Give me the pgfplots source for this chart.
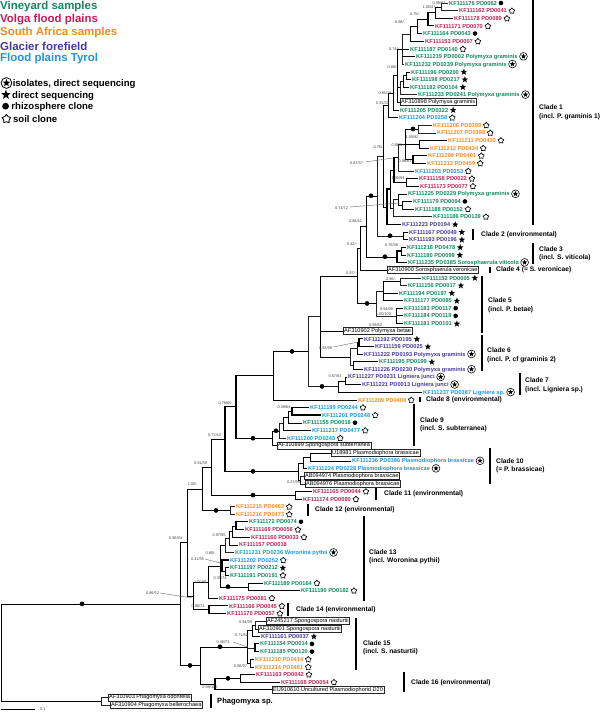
\documentclass[border=0pt]{standalone}
\usepackage{fontspec}
\setmainfont{Liberation Sans}
\usepackage{pgfplots}
\pgfplotsset{compat=1.18}
\definecolor{cG}{RGB}{16,135,95}
\definecolor{cR}{RGB}{180,36,88}
\definecolor{cO}{RGB}{240,140,30}
\definecolor{cP}{RGB}{72,56,150}
\definecolor{cB}{RGB}{30,150,215}
\definecolor{tree}{RGB}{35,35,35}
\newcommand{\starpath}[2]{(90:#1)--(126:#2)--(162:#1)--(198:#2)--(234:#1)--(270:#2)--(306:#1)--(342:#2)--(18:#1)--(54:#2)--cycle}
\newcommand{\sst}{\hspace{1.8pt}\tikz[baseline=-2pt]\fill[black] \starpath{3.4pt}{1.45pt};}
\newcommand{\sdt}{\hspace{1.8pt}\tikz[baseline=-2pt]\fill[black] (0,0) circle (2.3pt);}
\newcommand{\ssl}{\hspace{1.8pt}\tikz[baseline=-2pt]\draw[black,line width=0.65pt,line join=round] \starpath{3.1pt}{2.0pt};}
\newcommand{\sis}{\hspace{1.8pt}\tikz[baseline=-2pt]{\draw[black,line width=0.55pt] (0,0) circle (3.9pt); \fill[black] \starpath{2.8pt}{1.2pt};}}
\newcommand{\lsst}{\tikz[baseline=-3.3pt]\fill[black] \starpath{5pt}{2.1pt};}
\newcommand{\lsdt}{\tikz[baseline=-3.3pt]\fill[black] (0,0) circle (3.4pt);}
\newcommand{\lssl}{\tikz[baseline=-3.3pt]\draw[black,line width=0.9pt,line join=round] \starpath{4.5pt}{2.9pt};}
\newcommand{\lsis}{\tikz[baseline=-3.3pt]{\draw[black,line width=0.8pt] (0,0) circle (5.4pt); \fill[black] \starpath{4pt}{1.7pt};}}
\tikzset{
 tip/.style={anchor=west,inner sep=1pt,font=\fontsize{5.7}{6}\selectfont\bfseries},
 bx/.style={anchor=west,draw=black!85,line width=0.45pt,inner sep=0.9pt,font=\fontsize{5.6}{6}\selectfont,text=black},
 bs/.style={anchor=center,inner sep=0pt,font=\fontsize{3.9}{4}\selectfont,text=black!75},
 cl/.style={anchor=west,inner sep=0pt,font=\fontsize{6.7}{7}\selectfont\bfseries,text=black},
 lg/.style={anchor=west,inner sep=0pt,font=\fontsize{9.6}{10}\selectfont\bfseries},
 lgc/.style={anchor=west,inner sep=0pt,font=\fontsize{11.5}{12}\selectfont\bfseries},
}
\begin{document}
\begin{tikzpicture}
\useasboundingbox (0,0) rectangle (600bp,714bp);
\begin{axis}[x=1bp,y=1bp,xmin=0,xmax=600,ymin=0,ymax=714,y dir=reverse,
 axis lines=none,clip=false,anchor=south west,at={(0,0)},
 cycle list={{tree,solid,line width=1.1pt,mark=none,line cap=rect}}]
% ---------- tree branches ----------
\addplot coordinates {(448,3.0) (441,3.0) (441,10.6) (458,10.6)};
\addplot coordinates {(441,6.8) (435,6.8) (435,18.3) (453,18.3)};
\addplot coordinates {(435,12.5) (428,12.5) (428,25.9) (434,25.9)};
\addplot coordinates {(428,19.2) (417,19.2) (417,33.5) (422,33.5)};
\addplot coordinates {(417,26.4) (410,26.4) (410,41.2) (424,41.2)};
\addplot coordinates {(410,33.8) (402,33.8) (402,64.0) (404,64.0)};
\addplot coordinates {(402,48.8) (409,48.8)};
\addplot coordinates {(402,56.4) (415,56.4)};
\addplot coordinates {(410,71.7) (406,71.7) (406,79.3) (411,79.3)};
\addplot coordinates {(406,75.5) (403,75.5) (403,86.9) (409,86.9)};
\addplot coordinates {(403,81.2) (400,81.2) (400,94.6) (417,94.6)};
\addplot coordinates {(402,48.9) (397,48.9) (397,102.2) (400,102.2)};
\addplot coordinates {(397,87.9) (400,87.9)};
\addplot coordinates {(397,75.5) (393,75.5) (393,109.8) (399,109.8)};
\addplot coordinates {(393,92.7) (388,92.7) (388,117.5) (398,117.5)};
\addplot coordinates {(432,125.1) (418,125.1) (418,132.7) (436,132.7)};
\addplot coordinates {(447,140.3) (419,140.3) (419,148.0) (429,148.0)};
\addplot coordinates {(427,155.6) (413,155.6) (413,163.2) (426,163.2)};
\addplot coordinates {(418,128.9) (405,128.9) (405,159.4) (413,159.4)};
\addplot coordinates {(405,144.2) (419,144.2)};
\addplot coordinates {(405,144.2) (398,144.2) (398,170.9) (414,170.9)};
\addplot coordinates {(418,178.5) (406,178.5) (406,186.1) (419,186.1)};
\addplot coordinates {(398,157.5) (394,157.5) (394,182.3) (406,182.3)};
\addplot coordinates {(412,201.4) (402,201.4) (402,209.0) (414,209.0)};
\addplot coordinates {(407,193.8) (398,193.8) (398,205.2) (402,205.2)};
\addplot coordinates {(398,199.5) (393,199.5) (393,216.6) (432,216.6)};
\addplot coordinates {(394,169.9) (390,169.9) (390,208.1) (393,208.1)};
\addplot coordinates {(390,189.0) (387,189.0) (387,224.3) (401,224.3)};
\addplot coordinates {(388,105.1) (383,105.1) (383,206.7) (387,206.7)};
\addplot coordinates {(408,231.9) (403,231.9) (403,239.5) (408,239.5)};
\addplot coordinates {(383,155.9) (377,155.9) (377,235.7) (403,235.7)};
\addplot coordinates {(406,247.2) (401,247.2) (401,254.8) (406,254.8)};
\addplot coordinates {(401,251.0) (397,251.0) (397,262.4) (407,262.4)};
\addplot coordinates {(377,195.8) (366,195.8) (366,256.7) (397,256.7)};
\addplot coordinates {(366,226.3) (360,226.3) (360,270.1) (387,270.1)};
\addplot coordinates {(421,277.7) (400,277.7) (400,285.3) (407,285.3)};
\addplot coordinates {(403,308.2) (396,308.2) (396,323.5) (403,323.5)};
\addplot coordinates {(396,315.8) (403,315.8)};
\addplot coordinates {(400,281.5) (383,281.5) (383,300.6) (403,300.6)};
\addplot coordinates {(383,292.9) (398,292.9)};
\addplot coordinates {(383,291.1) (376,291.1) (376,315.8) (396,315.8)};
\addplot coordinates {(360,248.2) (357,248.2) (357,303.4) (376,303.4)};
\addplot coordinates {(363,338.7) (359,338.7) (359,346.4) (374,346.4)};
\addplot coordinates {(359,342.5) (357,342.5) (357,354.0) (363,354.0)};
\addplot coordinates {(378,361.6) (353,361.6) (353,369.2) (363,369.2)};
\addplot coordinates {(357,348.3) (350,348.3) (350,365.4) (353,365.4)};
\addplot coordinates {(357,275.8) (320,275.8) (320,356.9) (350,356.9)};
\addplot coordinates {(320,331.1) (343,331.1)};
\addplot coordinates {(347,376.9) (345,376.9) (345,384.5) (361,384.5)};
\addplot coordinates {(345,380.7) (338,380.7) (338,392.1) (422,392.1)};
\addplot coordinates {(320,316.4) (308,316.4) (308,386.4) (338,386.4)};
\addplot coordinates {(308,351.4) (273,351.4) (273,399.8) (357,399.8)};
\addplot coordinates {(309,407.4) (292,407.4) (292,415.0) (321,415.0)};
\addplot coordinates {(292,411.2) (288,411.2) (288,422.7) (302,422.7)};
\addplot coordinates {(288,416.9) (283,416.9) (283,430.3) (311,430.3)};
\addplot coordinates {(283,423.6) (279,423.6) (279,437.9) (286,437.9)};
\addplot coordinates {(279,430.8) (272,430.8) (272,445.5) (277,445.5)};
\addplot coordinates {(273,375.6) (236,375.6) (236,438.2) (272,438.2)};
\addplot coordinates {(331,453.2) (310,453.2) (310,460.8) (351,460.8)};
\addplot coordinates {(310,457.0) (303,457.0) (303,468.4) (307,468.4)};
\addplot coordinates {(304,476.1) (300,476.1) (300,483.7) (305,483.7)};
\addplot coordinates {(303,462.7) (298,462.7) (298,479.9) (300,479.9)};
\addplot coordinates {(236,406.9) (225,406.9) (225,471.3) (298,471.3)};
\addplot coordinates {(312,491.3) (295,491.3) (295,499.0) (302,499.0)};
\addplot coordinates {(225,439.1) (211,439.1) (211,495.1) (295,495.1)};
\addplot coordinates {(235,506.6) (230,506.6) (230,514.2) (235,514.2)};
\addplot coordinates {(211,467.1) (202,467.1) (202,510.4) (230,510.4)};
\addplot coordinates {(248,521.8) (236,521.8) (236,529.5) (244,529.5)};
\addplot coordinates {(236,525.7) (232,525.7) (232,537.1) (250,537.1)};
\addplot coordinates {(232,531.4) (229,531.4) (229,544.7) (238,544.7)};
\addplot coordinates {(229,538.1) (225,538.1) (225,552.4) (234,552.4)};
\addplot coordinates {(229,567.6) (225,567.6) (225,575.3) (229,575.3)};
\addplot coordinates {(229,560.0) (222,560.0) (222,571.4) (225,571.4)};
\addplot coordinates {(263,582.9) (248,582.9) (248,590.5) (300,590.5)};
\addplot coordinates {(225,545.2) (220,545.2) (220,586.7) (248,586.7)};
\addplot coordinates {(220,565.7) (222,565.7)};
\addplot coordinates {(220,566.0) (208,566.0) (208,598.1) (218,598.1)};
\addplot coordinates {(228,605.8) (209,605.8) (209,613.4) (226,613.4)};
\addplot coordinates {(208,582.0) (193,582.0) (193,609.6) (209,609.6)};
\addplot coordinates {(202,488.8) (187,488.8) (187,595.8) (193,595.8)};
\addplot coordinates {(266,621.0) (255,621.0) (255,628.7) (258,628.7)};
\addplot coordinates {(255,624.8) (252,624.8) (252,636.3) (260,636.3)};
\addplot coordinates {(259,643.9) (255,643.9) (255,651.6) (259,651.6)};
\addplot coordinates {(254,659.2) (250,659.2) (250,666.8) (254,666.8)};
\addplot coordinates {(252,630.6) (247,630.6) (247,663.0) (250,663.0)};
\addplot coordinates {(247,647.7) (255,647.7)};
\addplot coordinates {(255,674.4) (240,674.4) (240,682.1) (280,682.1)};
\addplot coordinates {(240,678.3) (215,678.3) (215,689.7) (272,689.7)};
\addplot coordinates {(247,646.8) (200,646.8) (200,684.0) (215,684.0)};
\addplot coordinates {(187,542.3) (180,542.3) (180,665.4) (200,665.4)};
\addplot coordinates {(108,697.3) (101,697.3) (101,705.0) (110,705.0)};
\addplot coordinates {(180,603.9) (1,603.9) (1,701.1) (101,701.1)};
% node dots
\addplot[only marks,mark=*,mark size=2.1pt,black] coordinates {(413,128.9) (371,195.8) (390,235.7) (385,256.7) (367,303.4) (292,351.4) (322,386.4) (253,438.2) (276,430.8) (253,471.3) (253,495.1) (216,510.4) (228,586.7) (190,665.4) (220,646.8) (228,678.3) (82,603.9)};
% leader lines
\addplot[black!60,line width=0.4pt] coordinates {(365,162) (393,158)};
\addplot[black!60,line width=0.4pt] coordinates {(350,207) (400,203)};
\addplot[black!60,line width=0.4pt] coordinates {(333,347) (358,342)};
\addplot[black!60,line width=0.4pt] coordinates {(160,593) (192,598)};
\addplot[black!60,line width=0.4pt] coordinates {(205,559) (220,563)};
\addplot[black!60,line width=0.4pt] coordinates {(233,642) (248,647)};
% clade bars
\addplot[black,line width=2.3pt,line cap=butt] coordinates {(533,0) (533,225)};
\addplot[black,line width=2.3pt,line cap=butt] coordinates {(473,229) (473,240)};
\addplot[black,line width=2.3pt,line cap=butt] coordinates {(533,243) (533,264)};
\addplot[black,line width=2.3pt,line cap=butt] coordinates {(490,267) (490,273)};
\addplot[black,line width=2.3pt,line cap=butt] coordinates {(482,276) (482,333)};
\addplot[black,line width=2.3pt,line cap=butt] coordinates {(482,335) (482,371)};
\addplot[black,line width=2.3pt,line cap=butt] coordinates {(520,373) (520,395)};
\addplot[black,line width=2.3pt,line cap=butt] coordinates {(420,397) (420,402)};
\addplot[black,line width=2.3pt,line cap=butt] coordinates {(414,404) (414,446)};
\addplot[black,line width=2.3pt,line cap=butt] coordinates {(490,448) (490,484)};
\addplot[black,line width=2.3pt,line cap=butt] coordinates {(376,488) (376,500)};
\addplot[black,line width=2.3pt,line cap=butt] coordinates {(308,504) (308,516)};
\addplot[black,line width=2.3pt,line cap=butt] coordinates {(364,516) (364,601)};
\addplot[black,line width=2.3pt,line cap=butt] coordinates {(288,603) (288,616)};
\addplot[black,line width=2.3pt,line cap=butt] coordinates {(356,618) (356,670)};
\addplot[black,line width=2.3pt,line cap=butt] coordinates {(404,672) (404,692)};
\addplot[black,line width=2.3pt,line cap=butt] coordinates {(211,694) (211,708)};
% scale bar
\addplot[black,line width=0.8pt,line cap=butt] coordinates {(1,709) (35,709)};
\node[bs,anchor=west] at (axis cs:40,709) {0.1};
% ---------- tip labels ----------
\node[tip,text=cG] at (axis cs:448,3.0) {KF111176 PD0062\sdt};
\node[tip,text=cR] at (axis cs:458,10.6) {KF111162 PD0041\ssl};
\node[tip,text=cR] at (axis cs:453,18.3) {KF111178 PD0089\ssl};
\node[tip,text=cR] at (axis cs:434,25.9) {KF111171 PD0070\ssl};
\node[tip,text=cG] at (axis cs:422,33.5) {KF111164 PD0043\sdt};
\node[tip,text=cR] at (axis cs:424,41.2) {KF111153 PD0007\ssl};
\node[tip,text=cG] at (axis cs:409,48.8) {KF111187 PD0140\ssl};
\node[tip,text=cG] at (axis cs:415,56.4) {KF111219 PD0002 Polymyxa graminis\sis};
\node[tip,text=cG] at (axis cs:404,64.0) {KF111232 PD0239 Polymyxa graminis\sis};
\node[tip,text=cG] at (axis cs:410,71.7) {KF111196 PD0200\sst};
\node[tip,text=cG] at (axis cs:411,79.3) {KF111198 PD0217\sst};
\node[tip,text=cG] at (axis cs:409,86.9) {KF111182 PD0104\sst};
\node[tip,text=cG] at (axis cs:417,94.6) {KF111233 PD0241 Polymyxa graminis\sis};
\node[bx] at (axis cs:400,102.2) {AF310898 Polymyxa graminis};
\node[tip,text=cG] at (axis cs:399,109.8) {KF111205 PD0322\sst};
\node[tip,text=cB] at (axis cs:398,117.5) {KF111204 PD0258\ssl};
\node[tip,text=cO] at (axis cs:432,125.1) {KF111206 PD0399\ssl};
\node[tip,text=cO] at (axis cs:436,132.7) {KF111207 PD0398\ssl};
\node[tip,text=cO] at (axis cs:447,140.3) {KF111211 PD0430\ssl};
\node[tip,text=cO] at (axis cs:429,148.0) {KF111212 PD0434\ssl};
\node[tip,text=cO] at (axis cs:427,155.6) {KF111208 PD0401\ssl};
\node[tip,text=cO] at (axis cs:426,163.2) {KF111213 PD0459\ssl};
\node[tip,text=cB] at (axis cs:414,170.9) {KF111203 PD0253\ssl};
\node[tip,text=cR] at (axis cs:418,178.5) {KF111158 PD0022\ssl};
\node[tip,text=cR] at (axis cs:419,186.1) {KF111173 PD0077\ssl};
\node[tip,text=cG] at (axis cs:407,193.8) {KF111225 PD0229 Polymyxa graminis\sis};
\node[tip,text=cG] at (axis cs:412,201.4) {KF111179 PD0094\sdt};
\node[tip,text=cG] at (axis cs:414,209.0) {KF111188 PD0152\ssl};
\node[tip,text=cG] at (axis cs:432,216.6) {KF111186 PD0139\ssl};
\node[tip,text=cP] at (axis cs:401,224.3) {KF111223 PD0194\sst};
\node[tip,text=cP] at (axis cs:408,231.9) {KF111167 PD0049\sst};
\node[tip,text=cP] at (axis cs:408,239.5) {KF111193 PD0196\sst};
\node[tip,text=cG] at (axis cs:406,247.2) {KF111218 PD0478\sst};
\node[tip,text=cG] at (axis cs:406,254.8) {KF111180 PD0099\sst};
\node[tip,text=cG] at (axis cs:407,262.4) {KF111235 PD0385 Sorosphaerula viticola\sis};
\node[bx] at (axis cs:387,270.1) {AF310900 Sorosphaerula veronicae};
\node[tip,text=cG] at (axis cs:421,277.7) {KF111152 PD0005\sst};
\node[tip,text=cG] at (axis cs:407,285.3) {KF111156 PD0017\sst};
\node[tip,text=cG] at (axis cs:398,292.9) {KF111194 PD0197\sst};
\node[tip,text=cG] at (axis cs:403,300.6) {KF111177 PD0085\sst};
\node[tip,text=cG] at (axis cs:403,308.2) {KF111183 PD0117\sdt};
\node[tip,text=cG] at (axis cs:403,315.8) {KF111184 PD0118\sdt};
\node[tip,text=cG] at (axis cs:403,323.5) {KF111181 PD0101\sst};
\node[bx] at (axis cs:343,331.1) {AF310902 Polymyxa betae};
\node[tip,text=cP] at (axis cs:363,338.7) {KF111192 PD0195\sst};
\node[tip,text=cP] at (axis cs:374,346.4) {KF111159 PD0025\sst};
\node[tip,text=cP] at (axis cs:363,354.0) {KF111222 PD0193 Polymyxa graminis\sis};
\node[tip,text=cG] at (axis cs:378,361.6) {KF111195 PD0199\sst};
\node[tip,text=cP] at (axis cs:363,369.2) {KF111226 PD0230 Polymyxa graminis\sis};
\node[tip,text=cP] at (axis cs:347,376.9) {KF111227 PD0231 Ligniera junci\sis};
\node[tip,text=cP] at (axis cs:361,384.5) {KF111221 PD0013 Ligniera junci\sis};
\node[tip,text=cB] at (axis cs:422,392.1) {KF111237 PD0387 Ligniera sp.\sis};
\node[tip,text=cO] at (axis cs:357,399.8) {KF111209 PD0408\ssl};
\node[tip,text=cB] at (axis cs:309,407.4) {KF111199 PD0244\ssl};
\node[tip,text=cB] at (axis cs:321,415.0) {KF111201 PD0248\ssl};
\node[tip,text=cG] at (axis cs:302,422.7) {KF111155 PD0016\sdt};
\node[tip,text=cB] at (axis cs:311,430.3) {KF111217 PD0477\ssl};
\node[tip,text=cB] at (axis cs:286,437.9) {KF111200 PD0245\ssl};
\node[bx] at (axis cs:277,445.5) {AF310899 Spongospora subterranea};
\node[bx] at (axis cs:331,453.2) {U18981 Plasmodiophora brassicae};
\node[tip,text=cB] at (axis cs:351,460.8) {KF111236 PD0386 Plasmodiophora brassicae\sis};
\node[tip,text=cB] at (axis cs:307,468.4) {KF111224 PD0228 Plasmodiophora brassicae\sis};
\node[bx] at (axis cs:304,476.1) {AB094974 Plasmodiophora brassicae};
\node[bx] at (axis cs:305,483.7) {AB094976 Plasmodiophora brassicae};
\node[tip,text=cR] at (axis cs:312,491.3) {KF111165 PD0044\ssl};
\node[tip,text=cR] at (axis cs:302,499.0) {KF111174 PD0080\ssl};
\node[tip,text=cO] at (axis cs:235,506.6) {KF111215 PD0463\ssl};
\node[tip,text=cO] at (axis cs:235,514.2) {KF111216 PD0473\ssl};
\node[tip,text=cG] at (axis cs:248,521.8) {KF111172 PD0074\sdt};
\node[tip,text=cR] at (axis cs:244,529.5) {KF111169 PD0056\ssl};
\node[tip,text=cR] at (axis cs:250,537.1) {KF111160 PD0033\ssl};
\node[tip,text=cR] at (axis cs:238,544.7) {KF111157 PD0018};
\node[tip,text=cB] at (axis cs:234,552.4) {KF111231 PD0236 Woronina pythii\sis};
\node[tip,text=cB] at (axis cs:229,560.0) {KF111202 PD0252\ssl};
\node[tip,text=cG] at (axis cs:229,567.6) {KF111197 PD0212\sst};
\node[tip,text=cG] at (axis cs:229,575.3) {KF111191 PD0191\ssl};
\node[tip,text=cG] at (axis cs:263,582.9) {KF111189 PD0164\ssl};
\node[tip,text=cG] at (axis cs:300,590.5) {KF111190 PD0182\ssl};
\node[tip,text=cR] at (axis cs:218,598.1) {KF111175 PD0081\ssl};
\node[tip,text=cR] at (axis cs:228,605.8) {KF111166 PD0045\ssl};
\node[tip,text=cR] at (axis cs:226,613.4) {KF111170 PD0057\ssl};
\node[bx] at (axis cs:266,621.0) {AF245217 Spongospora nasturtii};
\node[bx] at (axis cs:258,628.7) {AF310901 Spongospora nasturtii};
\node[tip,text=cP] at (axis cs:260,636.3) {KF111161 PD0037\sst};
\node[tip,text=cG] at (axis cs:259,643.9) {KF111154 PD0014\sdt};
\node[tip,text=cG] at (axis cs:259,651.6) {KF111185 PD0120\sdt};
\node[tip,text=cO] at (axis cs:254,659.2) {KF111210 PD0414\ssl};
\node[tip,text=cO] at (axis cs:254,666.8) {KF111214 PD0461\ssl};
\node[tip,text=cR] at (axis cs:255,674.4) {KF111163 PD0042\ssl};
\node[tip,text=cR] at (axis cs:280,682.1) {KF111168 PD0054\ssl};
\node[bx] at (axis cs:272,689.7) {EU910610 Uncultured Plasmodiophorid D20};
\node[bx] at (axis cs:108,697.3) {AF310903 Phagomyxa odontella};
\node[bx] at (axis cs:110,705.0) {AF310904 Phagomyxa bellerochaea};
% ---------- support values ----------
\node[bs] at (axis cs:439,2.7) {0.99/91};
\node[bs] at (axis cs:429,7.3) {1.00/47};
\node[bs] at (axis cs:415,14.3) {0.75/-};
\node[bs] at (axis cs:400,22.3) {0.98/-};
\node[bs] at (axis cs:394,49.3) {0.74/-};
\node[bs] at (axis cs:392.5,67.3) {0.89/-};
\node[bs] at (axis cs:385,92.7) {0.95/18};
\node[bs] at (axis cs:382.5,102.7) {0.91/33};
\node[bs] at (axis cs:412,137) {1.00/92};
\node[bs] at (axis cs:397,144.7) {0.86/1};
\node[bs] at (axis cs:378.5,147.3) {0.76/-};
\node[bs] at (axis cs:405,161.3) {0.98/61};
\node[bs] at (axis cs:356.5,163) {0.87/37};
\node[bs] at (axis cs:398,178) {1.00/94};
\node[bs] at (axis cs:341.5,208) {0.71/72};
\node[bs] at (axis cs:355.5,221.3) {0.88/41};
\node[bs] at (axis cs:352,243.7) {0.42/-};
\node[bs] at (axis cs:391.5,245.3) {0.75/98};
\node[bs] at (axis cs:351,272.7) {0.97/-};
\node[bs] at (axis cs:391,278.7) {0.96/-};
\node[bs] at (axis cs:386.5,308.7) {0.94/98};
\node[bs] at (axis cs:383.5,314.3) {1.00/100};
\node[bs] at (axis cs:375.5,325) {0.99/82};
\node[bs] at (axis cs:325.5,348.3) {0.93/98};
\node[bs] at (axis cs:335,376) {0.67/83};
\node[bs] at (axis cs:284,407) {0.39/64};
\node[bs] at (axis cs:293.5,482) {0.27/99};
\node[bs] at (axis cs:225,403) {0.78/60};
\node[bs] at (axis cs:214.5,435) {0.77/42};
\node[bs] at (axis cs:200.5,463) {0.91/59};
\node[bs] at (axis cs:192.5,484) {1.00/-};
\node[bs] at (axis cs:175.5,538) {0.96/84};
\node[bs] at (axis cs:152.5,593) {0.86/52};
\node[bs] at (axis cs:219,535) {0.97/95};
\node[bs] at (axis cs:210.5,553) {0.88/-};
\node[bs] at (axis cs:197.5,559) {0.41/95};
\node[bs] at (axis cs:220,578) {0.39/74};
\node[bs] at (axis cs:200.5,582) {1.00/81};
\node[bs] at (axis cs:198,606) {0.98/71};
\node[bs] at (axis cs:245.5,622) {0.94/99};
\node[bs] at (axis cs:241.5,635) {0.71/82};
\node[bs] at (axis cs:223,642) {0.45/73};
\node[bs] at (axis cs:240.5,666) {0.86/97};
\node[bs] at (axis cs:210,687) {0.99/100};
% ---------- clade labels ----------
\node[cl] at (axis cs:539,107) {Clade 1};
\node[cl] at (axis cs:539,116.5) {(incl. P. graminis 1)};
\node[cl] at (axis cs:481,235) {Clade 2 (environmental)};
\node[cl] at (axis cs:539,249) {Clade 3};
\node[cl] at (axis cs:539,258) {(incl. S. viticola)};
\node[cl] at (axis cs:496,270) {Clade 4 (= S. veronicae)};
\node[cl] at (axis cs:488,300.5) {Clade 5};
\node[cl] at (axis cs:488,309.5) {(incl. P. betae)};
\node[cl] at (axis cs:487,350.5) {Clade 6};
\node[cl] at (axis cs:487,359.5) {(incl. P. cf graminis 2)};
\node[cl] at (axis cs:525,380.5) {Clade 7};
\node[cl] at (axis cs:525,389.5) {(incl. Ligniera sp.)};
\node[cl] at (axis cs:426,399.5) {Clade 8 (environmental)};
\node[cl] at (axis cs:420,420) {Clade 9};
\node[cl] at (axis cs:420,429) {(incl. S. subterranea)};
\node[cl] at (axis cs:496,461) {Clade 10};
\node[cl] at (axis cs:496,470) {(= P. brassicae)};
\node[cl] at (axis cs:384,494) {Clade 11 (environmental)};
\node[cl] at (axis cs:315,510) {Clade 12 (environmental)};
\node[cl] at (axis cs:369,552) {Clade 13};
\node[cl] at (axis cs:369,561) {(incl. Woronina pythii)};
\node[cl] at (axis cs:296,609.5) {Clade 14 (environmental)};
\node[cl] at (axis cs:363,643) {Clade 15};
\node[cl] at (axis cs:363,652) {(incl. S. nasturtii)};
\node[cl] at (axis cs:411,683) {Clade 16 (environmental)};
\node[cl,font=\fontsize{7.6}{8}\selectfont\bfseries] at (axis cs:217,701.5) {Phagomyxa sp.};
% ---------- legend ----------
\node[lgc,text=cG] at (axis cs:0,7) {Vineyard samples};
\node[lgc,text=cR] at (axis cs:0,20) {Volga flood plains};
\node[lgc,text=cO] at (axis cs:0,33) {South Africa samples};
\node[lgc,text=cP] at (axis cs:0,46) {Glacier forefield};
\node[lgc,text=cB] at (axis cs:0,59) {Flood plains Tyrol};
\node[lg,text=black] at (axis cs:0.5,83) {\lsis\hspace{0.5pt}isolates, direct sequencing};
\node[lg,text=black] at (axis cs:1,95) {\lsst\hspace{1.5pt}direct sequencing};
\node[lg,text=black] at (axis cs:2,107) {\lsdt\hspace{2.5pt}rhizosphere clone};
\node[lg,text=black] at (axis cs:1.5,118.5) {\lssl\hspace{2pt}soil clone};
\end{axis}
\end{tikzpicture}
\end{document}
